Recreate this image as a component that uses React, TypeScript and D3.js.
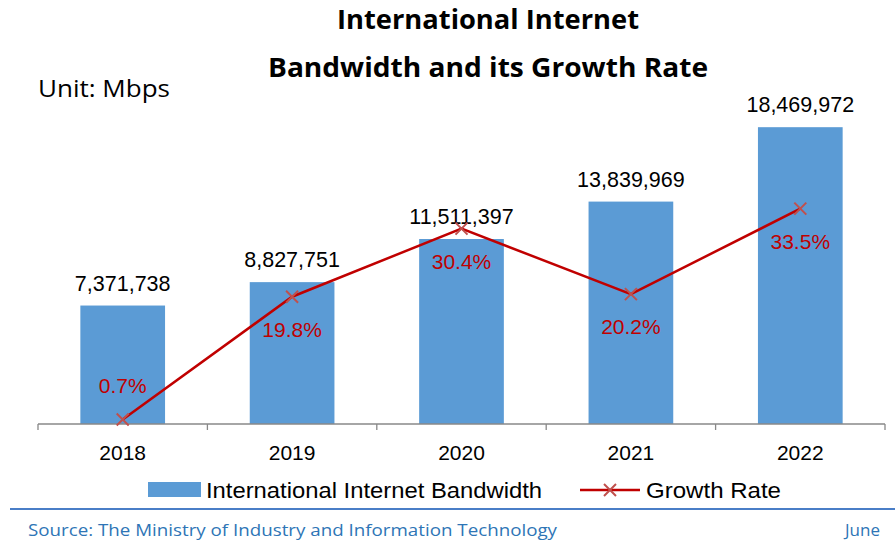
import React from 'react';
import * as d3 from 'd3';

const years = ['2018', '2019', '2020', '2021', '2022'];
const bandwidth = [7371738, 8827751, 11511397, 13839969, 18469972];
const growthRate = [0.7, 19.8, 30.4, 20.2, 33.5];

const titleLines = ['International Internet', 'Bandwidth and its Growth Rate'];
const unitLabel = 'Unit: Mbps';
const legendLabels = ['International Internet Bandwidth', 'Growth Rate'];
const sourceText = 'Source: The Ministry of Industry and Information Technology';
const dateText = 'June';

const W = 895;
const H = 544;
const BAR_COLOR = '#5B9BD5';
const LINE_COLOR = '#C00000';
const MARK_COLOR = '#C0504D';
const font = '"Liberation Sans", Arial, sans-serif';
const headFont = '"Open Sans", "Noto Sans", sans-serif';

const App: React.FC = () => {
  const axisY = 424;
  const plotTop = 102.6;

  const x = d3.scaleBand<string>()
    .domain(years)
    .range([38, 885])
    .paddingInner(0.5)
    .paddingOuter(0.25);

  const yBar = d3.scaleLinear().domain([0, 20000000]).range([axisY, plotTop]);
  const yRate = d3.scaleLinear().domain([0, 50]).range([axisY, plotTop]);

  const fmt = d3.format(',');
  const step = x.step();
  const cx = (y: string) => (x(y) as number) + x.bandwidth() / 2;

  const line = d3.line<number>()
    .x((_, i) => cx(years[i]))
    .y(d => yRate(d));

  // tick positions at the band boundaries
  const ticks = d3.range(years.length + 1).map(i => 38 + i * step);

  const cross = (px: number, py: number, s: number, key?: string) => (
    <path
      key={key}
      d={`M${px - s},${py - s}L${px + s},${py + s}M${px - s},${py + s}L${px + s},${py - s}`}
      stroke={MARK_COLOR}
      strokeWidth={2}
      fill="none"
    />
  );

  return (
    <svg width={W} height={H} style={{ position: 'absolute', left: 0, top: 0, background: '#fff' }}>
      <rect width={W} height={H} fill="#fff" />

      {/* title */}
      {titleLines.map((t, i) => (
        <text
          key={t}
          x={488}
          y={29 + i * 48}
          textAnchor="middle"
          fontFamily={headFont}
          fontWeight="bold"
          fontSize={26}
          fill="#000"
          textLength={i === 0 ? 302 : 440}
          lengthAdjust="spacingAndGlyphs"
        >
          {t}
        </text>
      ))}
      <text x={38} y={97} fontFamily={headFont} fontSize={24} fill="#000"
        textLength={132} lengthAdjust="spacingAndGlyphs">
        {unitLabel}
      </text>

      {/* bars */}
      {bandwidth.map((v, i) => (
        <g key={years[i]}>
          <rect
            x={x(years[i])}
            y={yBar(v)}
            width={x.bandwidth()}
            height={axisY - yBar(v)}
            fill={BAR_COLOR}
          />
          <text
            x={cx(years[i])}
            y={yBar(v) - 15}
            textAnchor="middle"
            fontFamily={font}
            fontSize={21.5}
            fill="#000"
          >
            {fmt(v)}
          </text>
        </g>
      ))}

      {/* x axis */}
      <line x1={38} x2={885} y1={axisY} y2={axisY} stroke="#888" strokeWidth={1.3} />
      {ticks.map(t => (
        <line key={t} x1={t} x2={t} y1={axisY} y2={axisY + 6} stroke="#888" strokeWidth={1.3} />
      ))}
      {years.map(y => (
        <text key={y} x={cx(y)} y={460} textAnchor="middle" fontFamily={font} fontSize={21} fill="#000">
          {y}
        </text>
      ))}

      {/* growth line */}
      <path d={line(growthRate) || ''} fill="none" stroke={LINE_COLOR} strokeWidth={2.5} />
      {growthRate.map((r, i) => cross(cx(years[i]), yRate(r), 6, 'm' + i))}
      {growthRate.map((r, i) => (
        <text
          key={'r' + i}
          x={cx(years[i])}
          y={r < 5 ? yRate(r) - 27 : yRate(r) + 40}
          textAnchor="middle"
          fontFamily={font}
          fontSize={21}
          fill={LINE_COLOR}
        >
          {r.toFixed(1) + '%'}
        </text>
      ))}

      {/* legend */}
      <rect x={148} y={482} width={53} height={15} fill={BAR_COLOR} />
      <text x={206} y={498} fontFamily={font} fontSize={22} fill="#000"
        textLength={336} lengthAdjust="spacingAndGlyphs">{legendLabels[0]}</text>
      <line x1={580} x2={640} y1={490} y2={490} stroke={LINE_COLOR} strokeWidth={2.5} />
      {cross(610, 490, 6)}
      <text x={646} y={498} fontFamily={font} fontSize={22} fill="#000"
        textLength={135} lengthAdjust="spacingAndGlyphs">{legendLabels[1]}</text>

      {/* footer */}
      <line x1={10} x2={895} y1={509} y2={509} stroke="#4A7EC7" strokeWidth={2} />
      <text x={28} y={536} fontFamily={headFont} fontSize={17} fill="#2E75B6"
        textLength={529} lengthAdjust="spacingAndGlyphs">
        {sourceText}
      </text>
      <text x={880} y={536} textAnchor="end" fontFamily={headFont} fontSize={17} fill="#2E75B6">
        {dateText}
      </text>
    </svg>
  );
};

export default App;
